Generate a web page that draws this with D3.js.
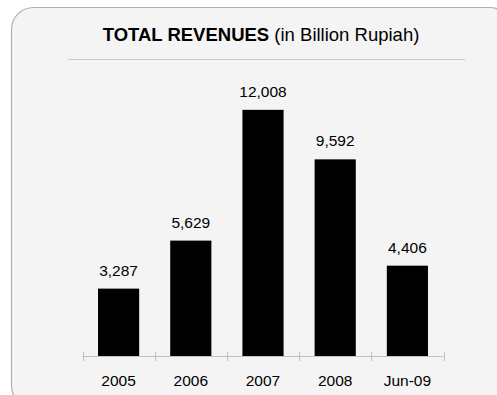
<!DOCTYPE html>
<meta charset="utf-8">
<script src="https://cdn.jsdelivr.net/npm/d3@7"></script>
<style>
body { margin: 0; background: #fff; }
text { font-family: "Liberation Sans", Arial, sans-serif; fill: #000; }
</style>
<body>
<script>

var categories = ["2005", "2006", "2007", "2008", "Jun-09"];
var revenues = [3287, 5629, 12008, 9592, 4406];

var width = 497,
    height = 395;

var svg = d3.select("body").append("svg")
    .attr("width", width)
    .attr("height", height);

// panel
svg.append("rect")
    .attr("x", 11.5).attr("y", 7.5)
    .attr("width", 500).attr("height", 400)
    .attr("rx", 22).attr("ry", 22)
    .style("fill", "#f4f4f4")
    .style("stroke", "#b0b0b0")
    .style("stroke-width", 1.2);

// title
var title = svg.append("text")
    .attr("x", 261).attr("y", 41)
    .attr("text-anchor", "middle")
    .style("font-size", "18.5px");
title.append("tspan").style("font-weight", "bold").text("TOTAL REVENUES");
title.append("tspan").text(" (in Billion Rupiah)");

svg.append("line")
    .attr("x1", 68).attr("x2", 465)
    .attr("y1", 59.5).attr("y2", 59.5)
    .style("stroke", "#c8c8c8");

var x = d3.scaleBand()
    .domain(categories)
    .range([82.5, 443.5])
    .paddingInner(0.43)
    .paddingOuter(0.215);

var y = d3.scaleLinear()
    .domain([0, 14000])
    .range([356, 69]);

// bars
svg.append("g")
    .selectAll("rect")
    .data(revenues)
    .enter().append("rect")
    .attr("x", function(d, i) { return x(categories[i]); })
    .attr("y", function(d) { return y(d); })
    .attr("width", x.bandwidth())
    .attr("height", function(d) { return y(0) - y(d); })
    .style("fill", "#000");

// value labels
svg.append("g")
    .selectAll("text")
    .data(revenues)
    .enter().append("text")
    .attr("x", function(d, i) { return x(categories[i]) + x.bandwidth() / 2; })
    .attr("y", function(d) { return y(d) - 13; })
    .attr("text-anchor", "middle")
    .style("font-size", "15.5px")
    .text(function(d) { return d3.format(",")(d); });

// axis with ticks between categories
var axis = svg.append("g");
axis.append("line")
    .attr("x1", 82.5).attr("x2", 443.5)
    .attr("y1", 356.5).attr("y2", 356.5)
    .style("stroke", "#c0c0c0");
var bounds = d3.range(categories.length + 1).map(function(i) { return 82.5 + i * (361 / categories.length); });
axis.selectAll(".tick")
    .data(bounds)
    .enter().append("line")
    .attr("x1", function(d) { return Math.round(d) + 0.5; })
    .attr("x2", function(d) { return Math.round(d) + 0.5; })
    .attr("y1", 352).attr("y2", 361)
    .style("stroke", "#c0c0c0");

axis.selectAll(".cat")
    .data(categories)
    .enter().append("text")
    .attr("x", function(d) { return x(d) + x.bandwidth() / 2; })
    .attr("y", 386)
    .attr("text-anchor", "middle")
    .style("font-size", "15.5px")
    .text(function(d) { return d; });

</script>
</body>
